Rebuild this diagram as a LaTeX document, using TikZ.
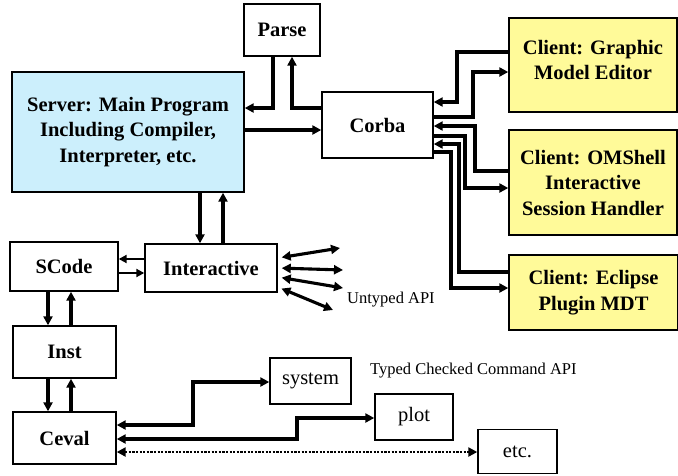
\documentclass[tikz,border=0pt]{standalone}
\usepackage{fontspec}
\setmainfont{Liberation Serif}
\usetikzlibrary{arrows.meta}

\begin{document}
\begin{tikzpicture}[x=1pt, y=-1pt,
    box/.style={draw, line width=1.4pt, inner sep=2pt, align=center,
      font=\bfseries\fontsize{20.5}{25.5}\selectfont},
    plainbox/.style={box, font=\fontsize{20.5}{25.5}\selectfont},
    serverbox/.style={box, fill=cyan!20},
    clientbox/.style={box, fill=yellow!40},
    apilabel/.style={anchor=west, inner sep=0pt, font=\fontsize{16.5}{19}\selectfont},
    wire/.style={line width=3.1pt, -{Triangle[length=9pt,width=9pt]}},
    dwire/.style={line width=3.1pt, {Triangle[length=9pt,width=9pt]}-{Triangle[length=9pt,width=9pt]}},
    thinwire/.style={line width=2.2pt, -{Triangle[length=8pt,width=8pt]}},
    dotwire/.style={line width=2.8pt, dash pattern=on 2.2pt off 1.4pt,
      {Triangle[length=9pt,width=9pt]}-{Triangle[length=9pt,width=9pt]}}]

    \useasboundingbox (0,0) rectangle (678,475);

    % --- Boxes ---
    % Server, parser and the Corba layer
    \node[box, minimum width=76pt, minimum height=52pt] (parse) at (282,30) {Parse};
    \node[serverbox, minimum width=232pt, minimum height=120pt] (server) at (128,132)
        {Server: Main Program\\Including Compiler,\\Interpreter, etc.};
    \node[box, minimum width=111pt, minimum height=66pt] (corba) at (377.5,125) {Corba};

    % Clients on the right (right edge runs off the page)
    \node[clientbox, minimum width=168pt, minimum height=94pt] (graphic) at (593,65)
        {Client: Graphic\\Model Editor\\[-15pt]};
    \node[clientbox, minimum width=168pt, minimum height=105pt] (omshell) at (593,182.5)
        {Client: OMShell\\Interactive\\Session Handler};
    \node[clientbox, minimum width=169pt, minimum height=75pt] (eclipse) at (593.5,292.5)
        {Client: Eclipse\\Plugin MDT};

    % Evaluation chain
    \node[box, minimum width=108pt, minimum height=49pt] (scode) at (64,266.5) {SCode};
    \node[box, minimum width=132pt, minimum height=48pt] (interactive) at (211,268) {Interactive};
    \node[box, minimum width=103pt, minimum height=52pt] (inst) at (64.5,352) {Inst};
    \node[box, minimum width=103pt, minimum height=52pt] (ceval) at (64.5,438) {Ceval};

    % Commands called from Ceval
    \node[plainbox, minimum width=81pt, minimum height=46pt] (system) at (310.5,381) {system};
    \node[plainbox, minimum width=78pt, minimum height=46pt] (plot) at (414,417) {plot};
    \node[plainbox, minimum width=79pt, minimum height=44pt] (etc) at (517.5,451.5) {etc.};

    % --- Labels ---
    \node[apilabel] (untyped) at (347,300) {Untyped API};
    \node[apilabel] (typed) at (370,371) {Typed Checked Command API};

    % --- Server, Parse and Corba ---
    \draw[wire] (parse.south -| 273,0) |- (server.east |- 0,108);
    \draw[wire] (corba.west |- 0,108) -| (parse.south -| 292,0);
    \draw[wire] (server.east |- 0,130) -- (corba.west |- 0,130);

    % --- Corba to the clients, one pair of wires each ---
    \draw[wire] (graphic.west |- 0,52) -| (457,102) -- (corba.east |- 0,102);
    \draw[wire] (corba.east |- 0,117) -| (473,72) -- (graphic.west |- 0,72);
    \draw[wire] (omshell.west |- 0,171) -| (475,126) -- (corba.east |- 0,126);
    \draw[wire] (corba.east |- 0,136) -| (465,188) -- (omshell.west |- 0,188);
    \draw[wire] (eclipse.west |- 0,272) -| (459,144) -- (corba.east |- 0,144);
    \draw[wire] (corba.east |- 0,152) -| (451,288) -- (eclipse.west |- 0,288);

    % --- Server and Interactive ---
    \draw[wire] (server.south -| 200,0) -- (interactive.north -| 200,0);
    \draw[wire] (interactive.north -| 223,0) -- (server.south -| 223,0);

    % --- Untyped API ends ---
    \coordinate (u1) at (340,248);
    \coordinate (u2) at (343,270);
    \coordinate (u3) at (343,288);
    \coordinate (u4) at (333,310);
    \draw[dwire, shorten <=4pt] (interactive.east |- 0,258) -- (u1);
    \draw[dwire, shorten <=4pt] (interactive.east |- 0,268) -- (u2);
    \draw[dwire, shorten <=4pt] (interactive.east |- 0,277) -- (u3);
    \draw[dwire, shorten <=4pt] (interactive.east |- 0,287) -- (u4);

    % --- SCode, Inst, Ceval ---
    \draw[thinwire] (interactive.west |- 0,259) -- (scode.east |- 0,259);
    \draw[thinwire] (scode.east |- 0,273) -- (interactive.west |- 0,273);
    \draw[wire] (scode.south -| 48,0) -- (inst.north -| 48,0);
    \draw[wire] (inst.north -| 71,0) -- (scode.south -| 71,0);
    \draw[wire] (inst.south -| 48,0) -- (ceval.north -| 48,0);
    \draw[wire] (ceval.north -| 71,0) -- (inst.south -| 71,0);

    % --- Ceval and the commands ---
    \draw[dwire] (system.west |- 0,382) -| (193,425) -- (ceval.east |- 0,425);
    \draw[dwire] (plot.west |- 0,418) -| (297,439) -- (ceval.east |- 0,439);
    \draw[dotwire] (ceval.east |- 0,452) -- (etc.west |- 0,452);

\end{tikzpicture}
\end{document}
